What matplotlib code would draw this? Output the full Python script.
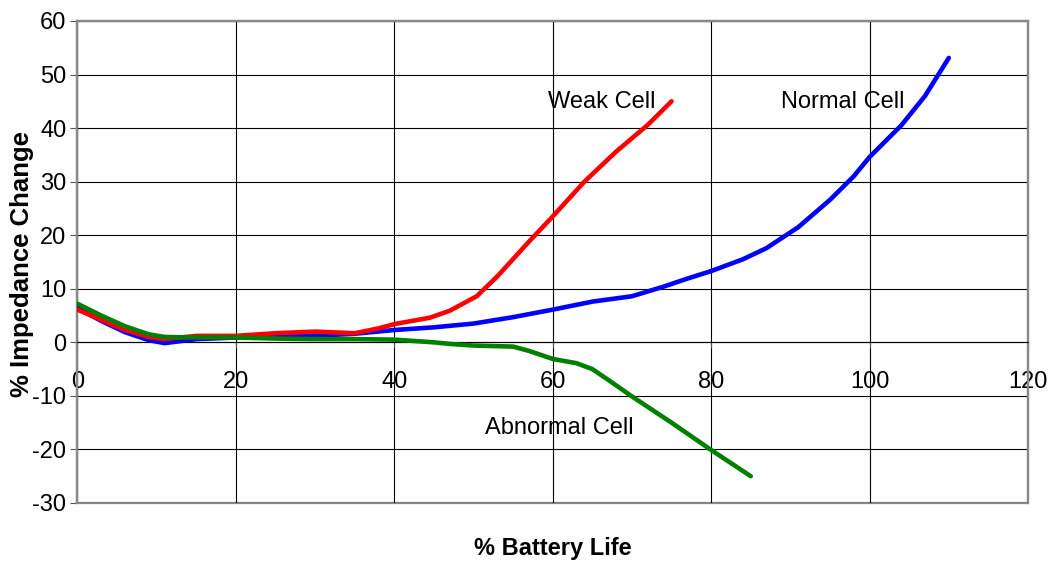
import matplotlib
matplotlib.use('Agg')
from matplotlib import pyplot as plt

plt.rcParams['axes.unicode_minus'] = False

# values
normal_x = [0, 3, 6, 9, 11, 15, 20, 25, 30, 35, 40, 45, 50, 55, 60, 65, 70, 74, 77, 80, 84, 87, 91, 95, 98, 100, 104, 107, 110]
normal_y = [6.4, 4.0, 1.9, 0.4, -0.15, 0.6, 0.9, 1.0, 1.2, 1.6, 2.3, 2.8, 3.5, 4.7, 6.1, 7.6, 8.6, 10.4, 11.9, 13.3, 15.5, 17.6, 21.5, 26.6, 31.0, 34.6, 40.5, 46.0, 53.1]

weak_x = [0, 3, 6, 9, 11, 15, 20, 25, 30, 35, 38, 40, 44.5, 47, 50.4, 53, 57, 60, 64, 68, 72, 75]
weak_y = [6.1, 4.2, 2.3, 1.0, 0.6, 1.2, 1.2, 1.7, 2.0, 1.7, 2.6, 3.4, 4.6, 5.9, 8.6, 12.3, 18.8, 23.5, 30.0, 35.6, 40.6, 45.0]

abnormal_x = [0, 3, 6, 9, 11, 15, 20, 25, 30, 35, 40, 45, 47, 50, 55, 57, 60, 63, 65, 67, 70, 75, 80, 85]
abnormal_y = [7.2, 5.0, 3.0, 1.5, 1.0, 0.9, 0.9, 0.7, 0.6, 0.6, 0.5, 0.0, -0.3, -0.6, -0.8, -1.6, -3.1, -3.9, -5.0, -7.0, -10.1, -15.0, -20.1, -25.0]

x_ticks = [0, 20, 40, 60, 80, 100, 120]
y_ticks = [-30, -20, -10, 0, 10, 20, 30, 40, 50, 60]

font = ['Liberation Sans', 'DejaVu Sans']

fig = plt.figure(figsize=(10.51, 5.61), dpi=100)
ax = fig.add_axes([0.0737, 0.1034, 0.9044, 0.8592])

ax.plot(normal_x, normal_y, color='#0000FF', lw=3.3, solid_joinstyle='round', solid_capstyle='round', zorder=3)
ax.plot(weak_x, weak_y, color='#FF0000', lw=3.3, solid_joinstyle='round', solid_capstyle='round', zorder=4)
ax.plot(abnormal_x, abnormal_y, color='#008000', lw=3.3, solid_joinstyle='round', solid_capstyle='round', zorder=5)

ax.set_xlim(0, 120)
ax.set_ylim(-30, 60)
ax.set_xticks(x_ticks)
ax.set_yticks(y_ticks)
ax.grid(True, color='black', lw=0.8)
ax.set_axisbelow(True)

# plot area frame in gray, x axis crossing at 0
for s in ['left', 'right', 'top']:
    ax.spines[s].set_color('#888888')
    ax.spines[s].set_linewidth(1.6)
ax.spines['bottom'].set_position(('data', 0))
ax.spines['bottom'].set_color('black')
ax.spines['bottom'].set_linewidth(0.8)
ax.patch.set_edgecolor('#888888')
ax.patch.set_linewidth(1.6)

ax.tick_params(axis='y', direction='out', length=5, width=0.8, color='#555555', pad=3)
ax.tick_params(axis='x', direction='out', length=4, width=0.8, color='#555555', pad=17)
for lab in ax.get_xticklabels() + ax.get_yticklabels():
    lab.set_family(font)
    lab.set_fontsize(17)

ax.text(66.2, 43.7, 'Weak Cell', family=font, fontsize=17, ha='center', va='baseline')
ax.text(96.6, 43.7, 'Normal Cell', family=font, fontsize=17, ha='center', va='baseline')
ax.text(60.85, -17.1, 'Abnormal Cell', family=font, fontsize=17, ha='center', va='baseline')

fig.text(553 / 1051, (561 - 555) / 561, '% Battery Life', family=font, fontsize=17,
         fontweight='bold', ha='center', va='baseline')
fig.text(22 / 1051, 0.53, '% Impedance Change', family=font,
         fontsize=18.5, fontweight='bold', rotation=90, ha='center', va='center')

plt.savefig('out.png', dpi=100)
